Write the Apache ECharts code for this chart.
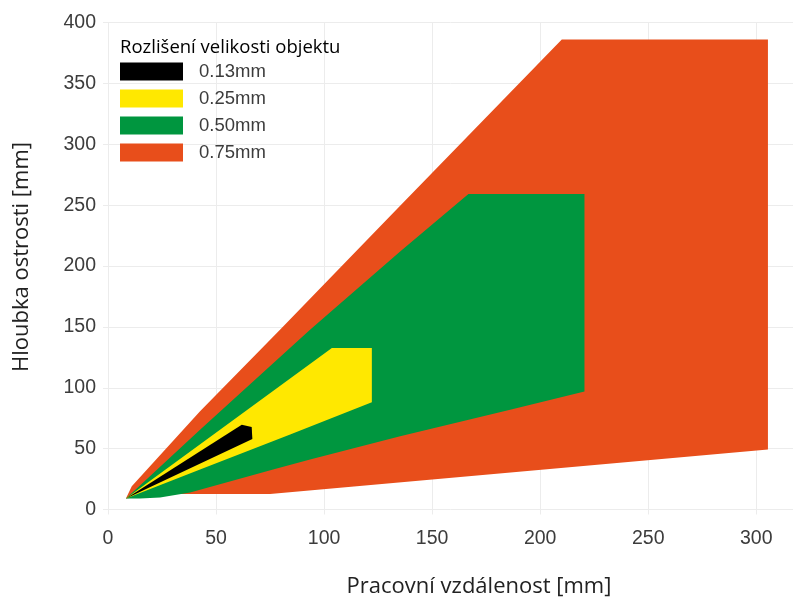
<!DOCTYPE html>
<html>
<head>
<meta charset="utf-8">
<script src="https://cdn.jsdelivr.net/npm/echarts@6/dist/echarts.min.js"></script>
<style>
  html, body { margin: 0; padding: 0; background: #ffffff; }
  #chart { width: 793px; height: 599px; }
</style>
</head>
<body>
<div id="chart"></div>
<script>
// Depth of field envelopes: [working distance mm, depth of field mm] outline points
const legendTitle = 'Rozlišení velikosti objektu';
const seriesNames = ['0.13mm', '0.25mm', '0.50mm', '0.75mm'];
const seriesColors = ['#000000', '#ffe800', '#00963f', '#e84e1b'];

const outline075 = [
  [8.3, 9.0], [11.0, 19.1], [42.6, 80.6], [79.6, 147.7], [135.2, 249.4],
  [210.0, 386.1], [305.4, 386.1], [305.4, 49.2], [75.0, 12.7], [21.8, 12.7],
  [14.8, 10.7]
];
const outline050 = [
  [8.3, 9.0], [42.6, 65.6], [93.5, 147.7], [135.2, 211.9], [166.8, 259.2],
  [220.5, 259.2], [220.5, 97.0], [186.1, 82.0], [135.2, 60.1], [93.5, 41.0],
  [76.4, 32.8], [38.0, 13.9], [24.1, 9.8], [14.8, 9.0]
];
const outline025 = [
  [8.3, 9.0], [103.6, 132.6], [122.1, 132.6], [122.1, 88.0], [84.3, 61.5],
  [42.6, 32.8]
];
const outline013 = [
  [8.3, 9.0], [61.9, 69.7], [66.5, 67.8], [66.8, 58.0]
];

const xTicks = [0, 50, 100, 150, 200, 250, 300];
const yTicks = [0, 50, 100, 150, 200, 250, 300, 350, 400];

// One closed polygon per series, projected through the cartesian axes
function polygonSeries(name, color, points) {
  return {
    type: 'custom',
    name: name,
    coordinateSystem: 'cartesian2d',
    itemStyle: { color: color },
    data: points,
    encode: { x: 0, y: 1 },
    silent: true,
    renderItem: function (params, api) {
      if (params.dataIndex !== 0) return null;
      const pts = points.map(function (p) { return api.coord(p); });
      return {
        type: 'polygon',
        shape: { points: pts },
        style: { fill: color }
      };
    }
  };
}

const gridColor = '#ececec';
const tickColor = '#3c3c3c';
const chart = echarts.init(document.getElementById('chart'), null, { renderer: 'canvas' });

chart.setOption({
  animation: false,
  backgroundColor: '#ffffff',
  grid: { left: 108, right: 0, top: 22.5, bottom: 89.5, outerBoundsMode: 'none' },
  title: {
    text: legendTitle,
    left: 120,
    top: 38,
    padding: 0,
    textStyle: { fontFamily: 'Open Sans', fontSize: 18.5, fontWeight: 'normal', color: '#000000' }
  },
  legend: {
    orient: 'vertical',
    left: 120,
    top: 62,
    padding: 0,
    itemWidth: 63,
    itemHeight: 18,
    itemGap: 8,
    icon: 'rect',
    selectedMode: false,
    data: seriesNames,
    textStyle: { fontFamily: 'Liberation Sans', fontSize: 18.5, color: tickColor, padding: [0, 0, 0, 11] }
  },
  xAxis: {
    type: 'value',
    min: 0,
    max: 317,
    interval: 50,
    name: 'Pracovní vzdálenost [mm]',
    nameLocation: 'middle',
    nameGap: 66,
    nameTextStyle: { fontFamily: 'Open Sans', fontSize: 22, fontWeight: 'normal', color: '#222222', padding: [0, 0, 0, 57] },
    axisLine: { show: false },
    axisTick: { show: true, length: 5, lineStyle: { color: gridColor } },
    splitLine: { show: true, lineStyle: { color: gridColor, width: 1 } },
    axisLabel: {
      margin: 19,
      showMaxLabel: false,
      fontFamily: 'Liberation Sans', fontSize: 19.5, color: tickColor,
      formatter: function (v) { return xTicks.indexOf(v) >= 0 ? String(v) : ''; }
    }
  },
  yAxis: {
    type: 'value',
    min: 0,
    max: 400,
    interval: 50,
    name: 'Hloubka ostrosti [mm]',
    nameLocation: 'middle',
    nameGap: 75,
    nameTextStyle: { fontFamily: 'Open Sans', fontSize: 22, fontWeight: 'normal', color: '#222222', padding: [0, 0, 0, 18] },
    axisLine: { show: false },
    axisTick: { show: true, length: 5, lineStyle: { color: gridColor } },
    splitLine: { show: true, lineStyle: { color: gridColor, width: 1 } },
    axisLabel: {
      margin: 12,
      padding: [9, 0, 0, 0],
      fontFamily: 'Liberation Sans', fontSize: 19.5, color: tickColor,
      formatter: function (v) { return yTicks.indexOf(v) >= 0 ? String(v) : ''; }
    }
  },
  series: [
    polygonSeries(seriesNames[3], seriesColors[3], outline075),
    polygonSeries(seriesNames[2], seriesColors[2], outline050),
    polygonSeries(seriesNames[1], seriesColors[1], outline025),
    polygonSeries(seriesNames[0], seriesColors[0], outline013)
  ]
});
</script>
</body>
</html>
